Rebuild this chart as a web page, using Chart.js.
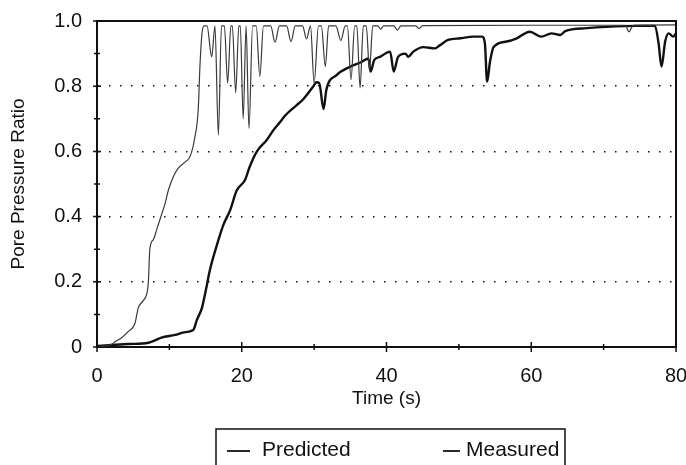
<!DOCTYPE html>
<html>
<head>
<meta charset="utf-8">
<script src="https://cdn.jsdelivr.net/npm/chart.js@4.4.1/dist/chart.umd.min.js"></script>
<style>
  html, body { margin: 0; padding: 0; background: #fff; }
  #wrap { width: 686px; height: 465px; }
</style>
</head>
<body>
<div id="wrap"><canvas id="ppChart"></canvas></div>
<script>
// Values (time in s, pore pressure ratio)
const predictedTime = [0, 1, 2, 2.5, 3.5, 4.3, 5.25, 5.7, 6.3, 6.9, 7.1, 7.3, 7.8, 8.25, 8.9, 9.4, 9.85, 10.5, 11.2, 12.2, 12.85, 13.45, 14.0, 14.2, 14.5, 14.8,
	15.2, 15.85, 16.3, 16.77, 17.2, 17.6, 18.05, 18.5, 18.7, 19.16, 19.6, 19.8, 20.2, 20.6, 21.0, 21.5, 22.0, 22.5, 23.0,
	24.0, 24.6, 25.2, 26.2, 26.8, 27.4, 28.4, 28.95, 29.5, 30.0, 30.6, 31.0, 31.55, 32.0, 33.0, 33.7, 34.3, 34.6, 35.1, 35.6,
	35.9, 36.35, 36.8, 37.2, 37.65, 38.1, 38.8, 39.2, 39.6, 41.0, 41.5, 42.0, 44.0, 44.5, 45.0, 60.0, 73.0, 73.5, 74.1, 80.0];
const predictedRatio = [0, 0.003, 0.008, 0.016, 0.03, 0.047, 0.073, 0.12, 0.14, 0.165, 0.2, 0.30, 0.33, 0.36, 0.405, 0.44, 0.48, 0.52, 0.548, 0.568, 0.584, 0.635, 0.733, 0.85, 0.96, 0.985,
	0.985, 0.89, 0.985, 0.65, 0.985, 0.985, 0.81, 0.985, 0.985, 0.78, 0.985, 0.985, 0.70, 0.985, 0.67, 0.985, 0.985, 0.83, 0.985,
	0.985, 0.935, 0.985, 0.985, 0.937, 0.985, 0.985, 0.945, 0.985, 0.81, 0.985, 0.985, 0.86, 0.985, 0.985, 0.94, 0.985, 0.985, 0.82, 0.985,
	0.985, 0.795, 0.985, 0.985, 0.85, 0.985, 0.985, 0.975, 0.985, 0.985, 0.972, 0.985, 0.985, 0.977, 0.986, 0.987, 0.987, 0.967, 0.987, 0.988];

const measuredTime = [0, 2, 4.3, 7.1, 8, 8.9, 10.8, 12, 13.3, 13.8, 14.5, 15.0, 15.6, 16.5, 17.45, 18.4, 19.3, 20.45, 21.1, 22.1, 23.45, 24.4, 25.3, 26,
	27.6, 28.5, 29.9, 30.3, 30.7, 31.3, 31.7, 33.1, 35, 36.6, 37.5, 37.8, 38.3, 39.1, 40.5, 41.0, 41.6, 42.6, 43.0, 43.7, 45.1, 46.7, 47.4,
	48.5, 50.2, 52, 53.2, 53.6, 53.9, 54.3, 54.8, 56.6, 58, 59.8, 61.4, 62.8, 64, 64.7, 67.7, 70.4, 74.6, 77.1, 77.6, 78.0, 78.5, 79, 79.6, 80];
const measuredRatio = [0.003, 0.006, 0.009, 0.013, 0.02, 0.029, 0.037, 0.045, 0.052, 0.083, 0.12, 0.17, 0.236, 0.308, 0.374, 0.42, 0.48, 0.512, 0.553, 0.60, 0.635, 0.666, 0.69, 0.71,
	0.742, 0.76, 0.80, 0.812, 0.81, 0.73, 0.79, 0.834, 0.86, 0.875, 0.885, 0.845, 0.88, 0.89, 0.906, 0.845, 0.89, 0.90, 0.89, 0.906, 0.92, 0.916, 0.926,
	0.942, 0.947, 0.952, 0.952, 0.93, 0.814, 0.875, 0.92, 0.937, 0.947, 0.967, 0.952, 0.962, 0.957, 0.969, 0.978, 0.982, 0.985, 0.985, 0.93, 0.86, 0.937, 0.962, 0.952, 0.962];

const xMajorTicks = [0, 20, 40, 60, 80];
const xMinorTicks = [10, 30, 50, 70];
const yMajorTicks = [0, 0.2, 0.4, 0.6, 0.8, 1.0];
const yMinorTicks = [0.1, 0.3, 0.5, 0.7, 0.9];

const ink = '#111';
const fontFamily = '"Liberation Sans", Arial, sans-serif';

function toPoints(times, values) {
	return times.map((t, i) => ({ x: t, y: values[i] }));
}

// Frame on top/right plus tick marks that cross the axes
const axisFrame = {
	id: 'axisFrame',
	afterDatasetsDraw(chart) {
		const { ctx, chartArea: a, scales: { x, y } } = chart;
		ctx.save();
		ctx.strokeStyle = ink;
		ctx.lineWidth = 2;
		ctx.beginPath();
		ctx.moveTo(a.left, a.top);
		ctx.lineTo(a.right, a.top);
		ctx.lineTo(a.right, a.bottom);
		ctx.stroke();

		ctx.lineWidth = 1.5;
		ctx.beginPath();
		xMajorTicks.forEach(v => {
			const px = x.getPixelForValue(v);
			ctx.moveTo(px, a.bottom - 5);
			ctx.lineTo(px, a.bottom + 5);
		});
		xMinorTicks.forEach(v => {
			const px = x.getPixelForValue(v);
			ctx.moveTo(px, a.bottom - 3);
			ctx.lineTo(px, a.bottom + 3);
		});
		yMajorTicks.forEach(v => {
			const py = y.getPixelForValue(v);
			ctx.moveTo(a.left - 4, py);
			ctx.lineTo(a.left + 4, py);
		});
		yMinorTicks.forEach(v => {
			const py = y.getPixelForValue(v);
			ctx.moveTo(a.left - 3, py);
			ctx.lineTo(a.left + 3, py);
		});
		ctx.stroke();
		ctx.restore();
	}
};

// Legend as in the scan: wide box under the plot, open at the bottom edge
const boxedLegend = {
	id: 'boxedLegend',
	afterDraw(chart) {
		const { ctx, chartArea: a } = chart;
		const sets = chart.data.datasets;
		const boxLeft = a.left + 119;
		const boxRight = a.left + 468;
		const boxTop = 429;
		const midY = 450;
		// HACK: marker/text offsets
		const items = [
			{ markFrom: boxLeft + 11, markTo: boxLeft + 34, textX: boxLeft + 46 },
			{ markFrom: boxLeft + 227, markTo: boxLeft + 244, textX: boxLeft + 250 },
		];

		ctx.save();
		ctx.strokeStyle = ink;
		ctx.lineWidth = 1.5;
		ctx.beginPath();
		ctx.moveTo(boxLeft, chart.height + 2);
		ctx.lineTo(boxLeft, boxTop);
		ctx.lineTo(boxRight, boxTop);
		ctx.lineTo(boxRight, chart.height + 2);
		ctx.stroke();

		ctx.font = '21px ' + fontFamily;
		ctx.fillStyle = ink;
		ctx.textBaseline = 'middle';
		ctx.textAlign = 'left';
		items.forEach((it, i) => {
			ctx.lineWidth = 1.8;
			ctx.beginPath();
			ctx.moveTo(it.markFrom, midY + 1);
			ctx.lineTo(it.markTo, midY + 1);
			ctx.stroke();
			ctx.fillText(sets[i].label, it.textX, midY);
		});
		ctx.restore();
	}
};

const ctx = document.getElementById('ppChart');
new Chart(ctx, {
	type: 'line',
	data: {
		datasets: [
			{
				label: 'Predicted',
				data: toPoints(predictedTime, predictedRatio),
				borderColor: '#3a3a3a',
				backgroundColor: '#3a3a3a',
				borderWidth: 1.2,
				pointRadius: 0,
				cubicInterpolationMode: 'monotone',
				fill: false,
			},
			{
				label: 'Measured',
				data: toPoints(measuredTime, measuredRatio),
				borderColor: ink,
				backgroundColor: ink,
				borderWidth: 2.4,
				pointRadius: 0,
				cubicInterpolationMode: 'monotone',
				fill: false,
			},
		],
	},
	options: {
		responsive: true,
		maintainAspectRatio: false,
		animation: false,
		layout: { padding: { left: 0, right: 10, top: 21, bottom: 29 } },
		plugins: {
			tooltip: { enabled: false },
			legend: { display: false },
		},
		scales: {
			x: {
				type: 'linear',
				min: 0,
				max: 80,
				afterFit: scale => {
					scale.height = 89;
					scale.paddingLeft = 0;
					scale.paddingRight = 0;
				},
				ticks: {
					stepSize: 20,
					padding: 17,
					maxRotation: 0,
					color: ink,
					font: { family: fontFamily, size: 20 },
				},
				grid: { display: false, drawTicks: false },
				border: { display: true, color: ink, width: 2 },
				title: {
					display: true,
					text: 'Time (s)',
					color: ink,
					font: { family: fontFamily, size: 19 },
					padding: { top: 0, bottom: 26 },
				},
			},
			y: {
				min: 0,
				max: 1,
				afterFit: scale => {
					scale.width = 97;
					scale.paddingTop = 0;
					scale.paddingBottom = 0;
				},
				ticks: {
					stepSize: 0.2,
					padding: 15,
					color: ink,
					font: { family: fontFamily, size: 20 },
					callback: v => (v === 0 ? '0' : v.toFixed(1)),
				},
				grid: {
					drawTicks: false,
					lineWidth: 1.5,
					color: c => (c.tick && (c.tick.value <= 0.001 || c.tick.value >= 0.999) ? 'rgba(0,0,0,0)' : ink),
				},
				border: { display: true, color: ink, width: 2, dash: [1.5, 9.5] },
				title: {
					display: true,
					text: 'Pore Pressure Ratio',
					color: ink,
					font: { family: fontFamily, size: 19 },
					padding: { top: 7, bottom: 0 },
				},
			},
		},
	},
	plugins: [axisFrame, boxedLegend],
});
</script>
</body>
</html>
